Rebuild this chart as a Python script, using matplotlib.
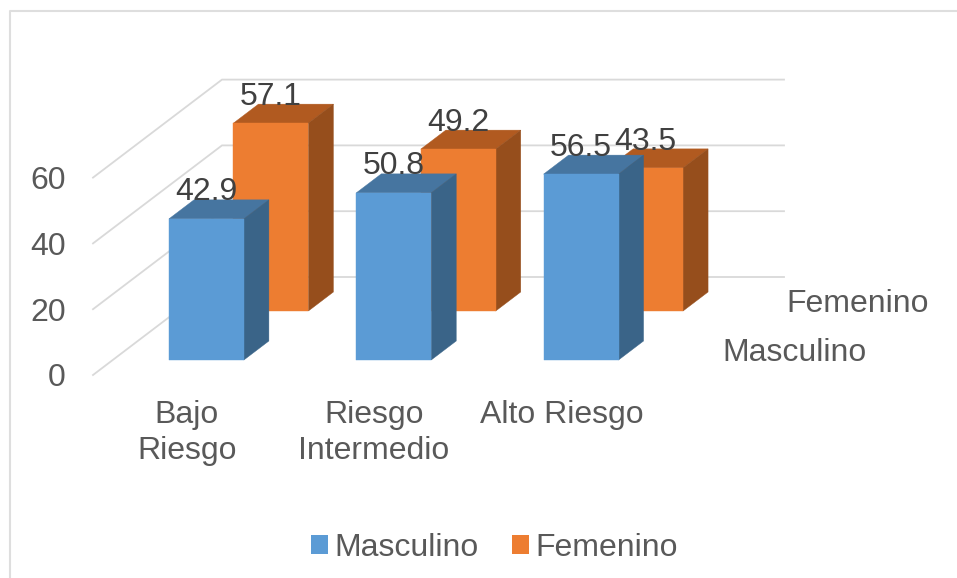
import matplotlib
matplotlib.use("Agg")
import matplotlib.pyplot as plt
from matplotlib.lines import Line2D
from matplotlib.patches import Polygon, Patch

categories = ["Bajo\nRiesgo", "Riesgo\nIntermedio", "Alto Riesgo"]
series_names = ["Masculino", "Femenino"]
masculino = [42.9, 50.8, 56.5]
femenino = [57.1, 49.2, 43.5]
y_ticks = [0, 20, 40, 60]

W, H = 957, 578
plt.rcParams["font.family"] = ["Liberation Sans", "DejaVu Sans"]
FS = 23.0
GRID = "#D9D9D9"
TXT = "#595959"
LBL = "#404040"

fig = plt.figure(figsize=(W / 100, H / 100), dpi=100, facecolor="white")
ax = fig.add_axes([93 / W, 1 - 375 / H, (655 - 93) / W, 197.4 / H])
ax.set_xlim(0, 3)
ax.set_ylim(0, 60)
ax.patch.set_visible(False)
for s in ax.spines.values():
    s.set_visible(False)

# oblique depth: one depth unit shifts right and up, in data units
DX, DY = 129 / (562 / 3), 98 / 3.29


def project(cat, val, depth):
    return (cat + DX * depth, val + DY * depth)


# chart frame (runs off the right and bottom of the picture)
fig.add_artist(Line2D([9.5 / W, 9.5 / W, 1.0], [0, 1 - 11 / H, 1 - 11 / H],
                      color="#DEDEDE", lw=1.5, transform=fig.transFigure))

# gridlines on the side wall and the back wall
for v in y_ticks:
    pts = [project(0, v, 0), project(0, v, 1), project(3, v, 1)]
    ax.plot(*zip(*pts), color=GRID, lw=1.3, clip_on=False, zorder=1,
            solid_joinstyle="miter")


def bar3d(i, val, depth, half_depth, cols):
    x0, x1 = i + 0.3, i + 0.7
    d0, d1 = depth - half_depth, depth + half_depth
    faces = [
        ([project(x0, val, d0), project(x1, val, d0), project(x1, val, d1), project(x0, val, d1)], cols[1]),
        ([project(x1, 0, d0), project(x1, val, d0), project(x1, val, d1), project(x1, 0, d1)], cols[2]),
        ([project(x0, 0, d0), project(x1, 0, d0), project(x1, val, d0), project(x0, val, d0)], cols[0]),
    ]
    for pts, c in faces:
        ax.add_patch(Polygon(pts, closed=True, facecolor=c, edgecolor=c, lw=0.3,
                             clip_on=False, zorder=3))
    ax.annotate(f"{val:.1f}", xy=project((x0 + x1) / 2, val, d0), xytext=(0, 19.0),
                textcoords="offset points", ha="center", va="center",
                fontsize=FS, color=LBL, zorder=6, annotation_clip=False)


BLUE = ("#5B9BD5", "#4675A0", "#3A6488")
ORANGE = ("#ED7D31", "#B15A20", "#964E1C")
DEPTHS = [0.25, 0.75]
HALF = 0.097
for i, v in enumerate(femenino):
    bar3d(i, v, DEPTHS[1], HALF, ORANGE)
for i, v in enumerate(masculino):
    bar3d(i, v, DEPTHS[0], HALF, BLUE)

# value axis
ax.set_yticks(y_ticks)
ax.set_yticklabels([str(t) for t in y_ticks])
ax.tick_params(axis="y", length=0, pad=19.5, labelsize=FS, labelcolor=TXT)

# category axis
ax.set_xticks([0.5, 1.5, 2.5])
ax.set_xticklabels(categories, linespacing=1.26)
ax.tick_params(axis="x", length=0, pad=18.2, labelsize=FS, labelcolor=TXT)

# series (depth) axis
for name, d in zip(series_names, DEPTHS):
    ax.annotate(name, xy=project(3, 0, d), xytext=(25.0, -2.0), textcoords="offset points",
                ha="left", va="center", fontsize=FS, color=TXT, annotation_clip=False)

# legend
handles = [Patch(facecolor=c[0], edgecolor="none") for c in (BLUE, ORANGE)]
fig.legend(handles, series_names, ncol=2, frameon=False, fontsize=FS, labelcolor=TXT,
           loc="center", bbox_to_anchor=(494.5 / W, 1 - 548 / H),
           handlelength=0.53, handleheight=0.53, handletextpad=0.2,
           columnspacing=1.05, borderpad=0, borderaxespad=0)

fig.savefig("out.png", dpi=100)
